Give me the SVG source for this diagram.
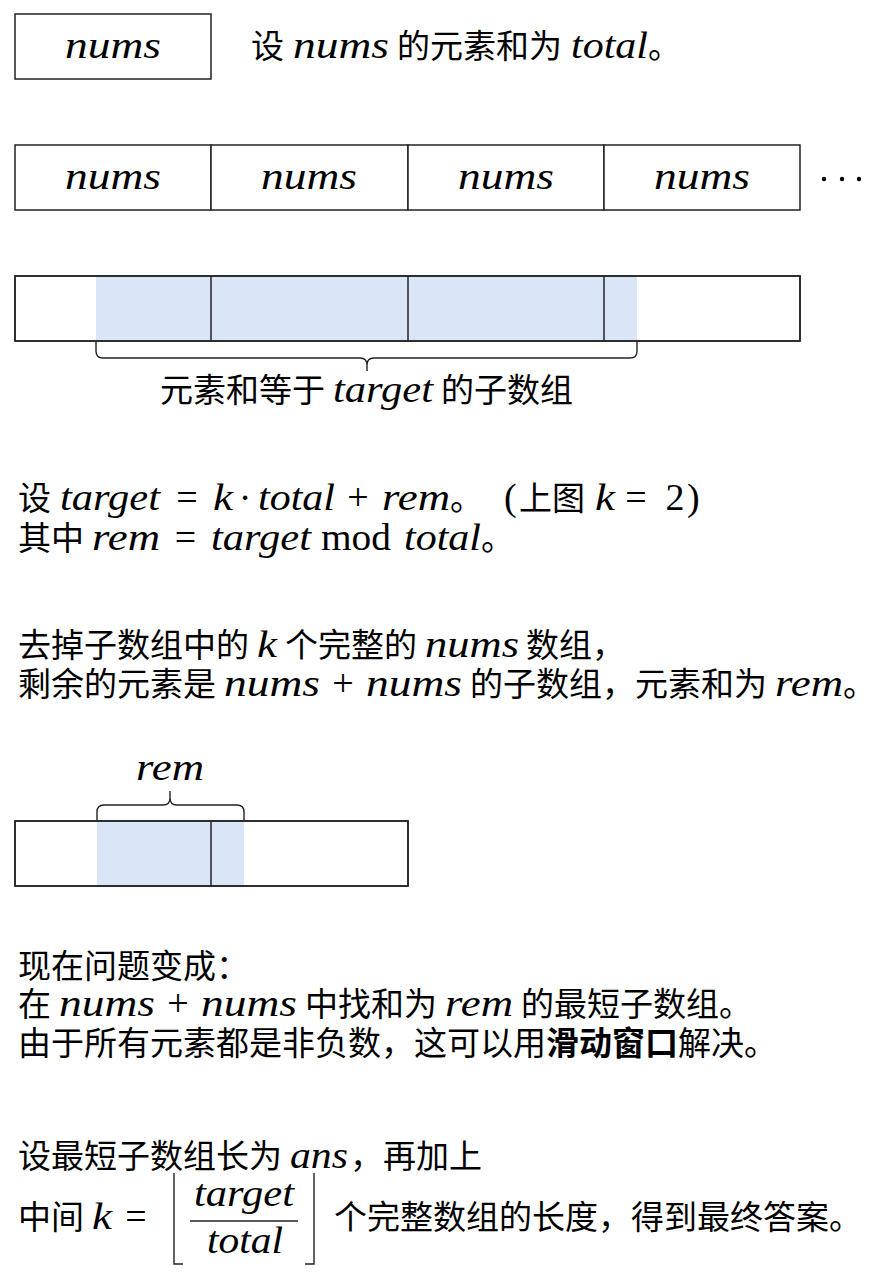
<svg xmlns="http://www.w3.org/2000/svg" width="878" height="1280" viewBox="0 0 878 1280">
<style>
.box{fill:#fff;stroke:#222;stroke-width:1.5}
.hl{fill:#dae6f8}
.ln{stroke:#222;stroke-width:1.5;fill:none}
.br{stroke:#222;stroke-width:1.4;fill:none}
text{fill:#000}
.c{font-family:"Noto Sans CJK SC","Noto Sans CJK JP",sans-serif;font-size:33px}
.b{font-weight:bold}
.m{font-family:"Liberation Serif",serif;font-style:italic;font-size:38px}
.r{font-family:"Liberation Serif",serif;font-size:38px}
.o{font-family:"Liberation Serif",serif;font-size:38px;text-anchor:middle}
</style>
<rect width="878" height="1280" fill="#fff"/>

<g id="box-nums">
<rect class="box" x="15" y="14" width="196" height="65"/>
<text class="m" x="65" y="58" textLength="96" lengthAdjust="spacingAndGlyphs">nums</text>
</g>
<g id="line-total">
<text class="c" x="251" y="58">设</text>
<text class="m" x="293" y="58" textLength="96" lengthAdjust="spacingAndGlyphs">nums</text>
<text class="c" x="397" y="58">的元素和为</text>
<text class="m" x="571" y="58" textLength="77" lengthAdjust="spacingAndGlyphs">total</text>
<text class="c" x="648" y="58">。</text>
</g>

<g id="row-repeat">
<rect class="box" x="15" y="145" width="196" height="65"/>
<rect class="box" x="211" y="145" width="197" height="65"/>
<rect class="box" x="408" y="145" width="196" height="65"/>
<rect class="box" x="604" y="145" width="196" height="65"/>
<text class="m" x="65" y="189" textLength="96" lengthAdjust="spacingAndGlyphs">nums</text>
<text class="m" x="261" y="189" textLength="96" lengthAdjust="spacingAndGlyphs">nums</text>
<text class="m" x="458" y="189" textLength="96" lengthAdjust="spacingAndGlyphs">nums</text>
<text class="m" x="654" y="189" textLength="96" lengthAdjust="spacingAndGlyphs">nums</text>
<circle cx="824" cy="179" r="2.2" fill="#000"/>
<circle cx="842" cy="179" r="2.2" fill="#000"/>
<circle cx="859" cy="179" r="2.2" fill="#000"/>
</g>

<g id="bar-target">
<rect class="box" x="15" y="276" width="785" height="65"/>
<rect class="hl" x="96" y="277" width="541" height="63"/>
<line class="ln" x1="211" y1="276" x2="211" y2="341"/>
<line class="ln" x1="408" y1="276" x2="408" y2="341"/>
<line class="ln" x1="604" y1="276" x2="604" y2="341"/>
<rect x="15" y="276" width="785" height="65" fill="none" stroke="#222" stroke-width="1.5"/>
</g>
<g id="brace-target">
<path class="br" d="M96,341 V351 Q96,358 103,358 H360 Q367,358 367,365 V371 M367,365 Q367,358 374,358 H630 Q637,358 637,351 V341"/>
<text class="c" x="160" y="402">元素和等于</text>
<text class="m" x="333" y="402" textLength="100" lengthAdjust="spacingAndGlyphs">target</text>
<text class="c" x="441" y="402">的子数组</text>
</g>

<g id="text-rem-def">
<text class="c" x="18" y="510">设</text>
<text class="m" x="60" y="510" textLength="100" lengthAdjust="spacingAndGlyphs">target</text>
<text class="o" x="187" y="510">=</text>
<text class="m" x="213" y="510" textLength="20" lengthAdjust="spacingAndGlyphs">k</text>
<text class="o" x="245" y="510">·</text>
<text class="m" x="258" y="510" textLength="77" lengthAdjust="spacingAndGlyphs">total</text>
<text class="o" x="358" y="510">+</text>
<text class="m" x="382" y="510" textLength="68" lengthAdjust="spacingAndGlyphs">rem</text>
<text class="c" x="450" y="510">。</text>
<text class="r" x="504" y="510">(</text>
<text class="c" x="519" y="510">上图</text>
<text class="m" x="595" y="510" textLength="20" lengthAdjust="spacingAndGlyphs">k</text>
<text class="o" x="636" y="510">=</text>
<text class="o" x="675" y="510">2</text>
<text class="r" x="687" y="510">)</text>

<text class="c" x="18" y="550">其中</text>
<text class="m" x="92" y="550" textLength="68" lengthAdjust="spacingAndGlyphs">rem</text>
<text class="o" x="185.5" y="550">=</text>
<text class="m" x="211" y="550" textLength="100" lengthAdjust="spacingAndGlyphs">target</text>
<text class="r" x="321" y="550" textLength="70" lengthAdjust="spacingAndGlyphs">mod</text>
<text class="m" x="404" y="550" textLength="77" lengthAdjust="spacingAndGlyphs">total</text>
<text class="c" x="481" y="550">。</text>
</g>

<g id="text-remove">
<text class="c" x="18" y="657">去掉子数组中的</text>
<text class="m" x="257" y="657" textLength="20" lengthAdjust="spacingAndGlyphs">k</text>
<text class="c" x="285" y="657">个完整的</text>
<text class="m" x="425" y="657" textLength="94" lengthAdjust="spacingAndGlyphs">nums</text>
<text class="c" x="526" y="657">数组，</text>

<text class="c" x="18" y="696">剩余的元素是</text>
<text class="m" x="224" y="696" textLength="96" lengthAdjust="spacingAndGlyphs">nums</text>
<text class="o" x="343" y="696">+</text>
<text class="m" x="366" y="696" textLength="96" lengthAdjust="spacingAndGlyphs">nums</text>
<text class="c" x="470" y="696">的子数组，元素和为</text>
<text class="m" x="775" y="696" textLength="68" lengthAdjust="spacingAndGlyphs">rem</text>
<text class="c" x="843" y="696">。</text>
</g>

<g id="brace-rem">
<text class="m" x="136" y="780" textLength="68" lengthAdjust="spacingAndGlyphs">rem</text>
<path class="br" d="M97,821 V812 Q97,805 104,805 H163 Q170,805 170,798 V791 M170,798 Q170,805 177,805 H237 Q244,805 244,812 V821"/>
</g>
<g id="bar-rem">
<rect class="box" x="15" y="821" width="393" height="65"/>
<rect class="hl" x="97" y="822" width="147" height="63"/>
<line class="ln" x1="211" y1="821" x2="211" y2="886"/>
<rect x="15" y="821" width="393" height="65" fill="none" stroke="#222" stroke-width="1.5"/>
</g>

<g id="text-problem">
<text class="c" x="18" y="978">现在问题变成：</text>
<text class="c" x="18" y="1016">在</text>
<text class="m" x="59" y="1016" textLength="96" lengthAdjust="spacingAndGlyphs">nums</text>
<text class="o" x="178" y="1016">+</text>
<text class="m" x="201" y="1016" textLength="96" lengthAdjust="spacingAndGlyphs">nums</text>
<text class="c" x="305" y="1016">中找和为</text>
<text class="m" x="445" y="1016" textLength="68" lengthAdjust="spacingAndGlyphs">rem</text>
<text class="c" x="521" y="1016">的最短子数组。</text>
<text class="c" x="18" y="1055">由于所有元素都是非负数，这可以用<tspan class="b">滑动窗口</tspan>解决。</text>
</g>

<g id="text-answer">
<text class="c" x="18" y="1168">设最短子数组长为</text>
<text class="m" x="290" y="1168" textLength="58" lengthAdjust="spacingAndGlyphs">ans</text>
<text class="c" x="350" y="1168">，再加上</text>
<text class="c" x="18" y="1229">中间</text>
<text class="m" x="92" y="1229" textLength="20" lengthAdjust="spacingAndGlyphs">k</text>
<text class="o" x="136" y="1229">=</text>
<path class="br" d="M183,1264 H174 V1173 M305,1264 H314 V1173" stroke-width="1.6"/>
<text class="m" x="194" y="1206" textLength="100" lengthAdjust="spacingAndGlyphs">target</text>
<line class="ln" x1="190" y1="1221" x2="298" y2="1221"/>
<text class="m" x="207" y="1253" textLength="76" lengthAdjust="spacingAndGlyphs">total</text>
<text class="c" x="334" y="1229">个完整数组的长度，得到最终答案。</text>
</g>
</svg>
